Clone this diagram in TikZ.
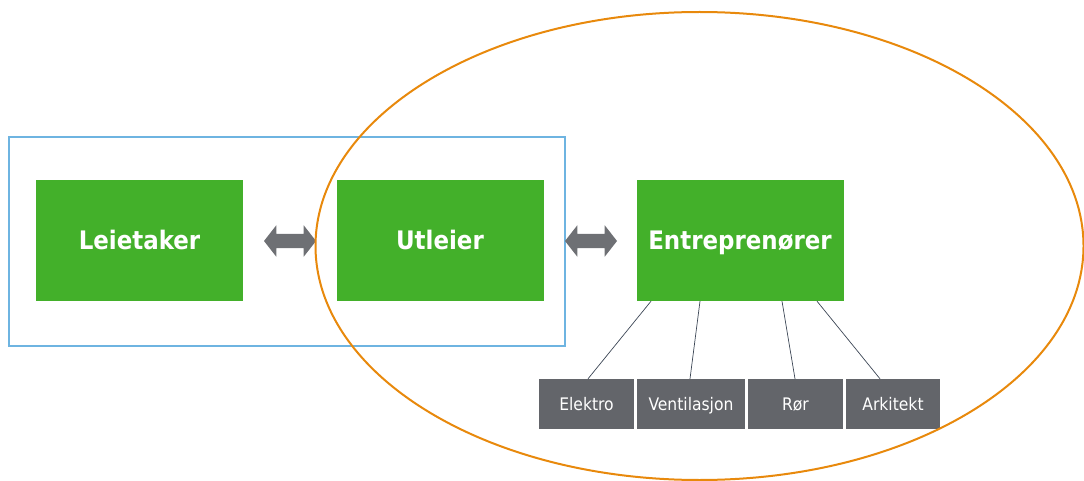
\documentclass[tikz,border=0pt]{standalone}
\usepackage{fontspec}
\setmainfont{DejaVu Sans Condensed}
\usetikzlibrary{shapes.arrows}
\definecolor{boxgreen}{RGB}{67,176,42}
\definecolor{subgray}{RGB}{99,101,106}
\definecolor{arrgray}{RGB}{110,112,116}
\definecolor{frameblue}{RGB}{110,180,225}
\definecolor{ringorange}{RGB}{232,137,12}
\definecolor{linkgray}{RGB}{60,70,85}
\begin{document}
\begin{tikzpicture}[x=1pt,y=-1pt,
  mainbox/.style={fill=boxgreen,draw=none,minimum width=207pt,minimum height=121pt,
    inner sep=0pt,text=white,text height=18.6pt,text depth=0pt,
    font=\bfseries\fontsize{25.5}{30}\selectfont},
  subbox/.style={fill=subgray,draw=none,minimum height=50pt,inner sep=0pt,
    text=white,text height=12.6pt,text depth=0pt,font=\fontsize{17.3}{21}\selectfont},
  dblarrow/.style={double arrow,fill=arrgray,draw=none,minimum height=52pt,
    minimum width=31pt,inner xsep=0pt,inner ysep=7pt,double arrow head extend=8.5pt,
    double arrow tip angle=104},
  link/.style={draw=linkgray,line width=0.7pt}]
\useasboundingbox (0,0) rectangle (1084,481);
% outer frame around the tenant/landlord pair
\draw[frameblue,line width=2pt] (9,137) rectangle (565,346);
% the three parties
\node[mainbox] (leie) at (139.5,240.5) {Leietaker};
\node[mainbox] (utl) at (440,240.5) {Utleier};
\node[mainbox] (entr) at (740,240.5) {Entreprenører};
% two-way relations
\node[dblarrow] (a1) at (290,241) {};
\node[dblarrow] (a2) at (591,241) {};
% subcontractors
\node[subbox,minimum width=95pt] (el) at (586.5,404) {Elektro};
\node[subbox,minimum width=108pt] (ve) at (691,404) {Ventilasjon};
\node[subbox,minimum width=95pt] (ro) at (795.5,404) {Rør};
\node[subbox,minimum width=94pt] (ar) at (893,404) {Arkitekt};
\draw[link] ([xshift=-89pt]entr.south) -- ([xshift=1.5pt]el.north);
\draw[link] ([xshift=-40pt]entr.south) -- ([xshift=-1pt]ve.north);
\draw[link] ([xshift=42pt]entr.south) -- ([xshift=-0.5pt]ro.north);
\draw[link] ([xshift=77pt]entr.south) -- ([xshift=-13pt]ar.north);
% landlord's sphere
\draw[ringorange,line width=2pt] (699.5,246) ellipse [x radius=384pt,y radius=234pt];
\end{tikzpicture}
\end{document}
